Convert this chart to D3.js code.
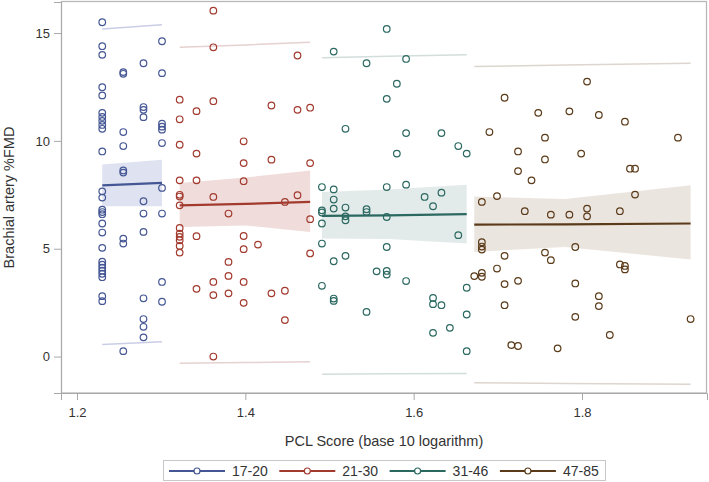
<!DOCTYPE html>
<html><head><meta charset="utf-8">
<script src="https://cdn.jsdelivr.net/npm/d3@7"></script>
<style>body{margin:0;background:#fff}svg{display:block;font-family:"Liberation Sans",Arial,sans-serif}</style>
</head><body><div id="chart"></div>
<script>
// ---------- data ----------
const groups = ["17-20", "21-30", "31-46", "47-85"];
const xTicks = [1.2, 1.4, 1.6, 1.8];
const yTicks = [0, 5, 10, 15];

// points: [log10 PCL score, %FMD]
const pts1720 = [
  [1.230,15.5],[1.230,14.39],[1.230,13.99],[1.230,12.49],[1.230,12.11],[1.230,11.30],[1.230,11.11],[1.230,10.93],
  [1.230,10.74],[1.230,10.56],[1.230,9.51],[1.230,7.66],[1.230,7.37],[1.230,6.81],[1.230,6.70],[1.230,6.60],
  [1.230,6.17],[1.230,5.75],[1.230,5.04],[1.230,4.40],[1.230,4.26],[1.230,4.12],[1.230,3.98],[1.230,3.84],
  [1.230,3.68],[1.230,2.80],[1.230,2.57],
  [1.255,13.19],[1.255,13.11],[1.255,10.41],[1.255,9.76],[1.255,8.63],[1.255,8.53],[1.255,5.47],[1.255,5.24],[1.255,0.25],
  [1.279,13.6],[1.279,11.57],[1.279,11.44],[1.279,11.1],[1.279,7.2],[1.279,6.63],[1.279,5.78],[1.279,2.7],[1.279,1.74],[1.279,1.38],[1.279,0.89],
  [1.301,14.62],[1.301,13.14],[1.301,10.8],[1.301,10.66],[1.301,10.52],[1.301,9.9],[1.301,7.82],[1.301,6.63],[1.301,3.46],[1.301,2.54]
];
const pts2130 = [
  [1.322,11.91],[1.322,11.0],[1.322,9.82],[1.322,8.17],[1.322,7.5],[1.322,7.42],[1.322,7.01],[1.322,5.96],[1.322,5.7],[1.322,5.55],[1.322,5.39],[1.322,5.13],[1.322,4.82],
  [1.342,11.38],[1.342,9.41],[1.342,8.17],[1.342,5.58],[1.342,3.14],
  [1.362,16.04],[1.362,14.34],[1.362,11.84],[1.362,7.4],[1.362,3.46],[1.362,2.85],[1.362,0.0],
  [1.380,6.63],[1.380,4.39],[1.380,3.74],[1.380,2.93],
  [1.398,9.98],[1.398,8.97],[1.398,8.13],[1.398,5.59],[1.398,4.98],[1.398,3.46],[1.398,2.49],
  [1.415,5.19],
  [1.431,11.64],[1.431,9.13],[1.431,2.93],
  [1.447,7.17],[1.447,3.05],[1.447,1.69],
  [1.462,13.96],[1.462,11.44],[1.462,7.48],
  [1.477,11.54],[1.477,8.97],[1.477,6.37],[1.477,4.78]
];
const pts3146 = [
  [1.491,7.86],[1.491,6.78],[1.491,6.68],[1.491,6.17],[1.491,5.24],[1.491,3.28],
  [1.505,14.14],[1.505,7.75],[1.505,7.28],[1.505,6.86],[1.505,4.42],[1.505,2.69],[1.505,2.58],
  [1.519,10.56],[1.519,6.91],[1.519,6.5],[1.519,6.32],[1.519,4.67],
  [1.544,13.6],[1.544,6.83],[1.544,6.7],[1.544,2.07],
  [1.556,3.95],
  [1.568,15.19],[1.568,11.95],[1.568,7.86],[1.568,6.47],[1.568,5.08],[1.568,3.97],[1.568,3.8],
  [1.580,12.65],[1.580,9.41],
  [1.591,13.8],[1.591,10.36],[1.591,7.97],[1.591,3.5],
  [1.613,7.4],
  [1.623,6.97],[1.623,2.72],[1.623,2.43],[1.623,1.1],
  [1.633,10.36],[1.633,7.6],[1.633,2.38],
  [1.643,1.33],
  [1.653,9.76],[1.653,5.63],
  [1.663,9.41],[1.663,3.19],[1.663,1.95],[1.663,0.25]
];
const pts4785 = [
  [1.672,3.73],
  [1.681,7.17],[1.681,5.3],[1.681,5.1],[1.681,4.96],[1.681,3.88],[1.681,3.7],
  [1.690,10.41],
  [1.699,7.44],[1.699,4.08],
  [1.708,12.0],[1.708,4.67],[1.708,3.36],[1.708,2.38],
  [1.716,0.53],
  [1.724,9.51],[1.724,8.6],[1.724,3.51],[1.724,0.49],
  [1.732,6.74],
  [1.740,8.17],
  [1.748,11.3],
  [1.756,10.15],[1.756,9.14],[1.756,4.82],
  [1.763,6.58],[1.763,4.47],
  [1.771,0.38],
  [1.785,11.37],[1.785,6.58],
  [1.792,5.08],[1.792,3.39],[1.792,1.84],
  [1.799,9.41],
  [1.806,12.75],[1.806,6.86],[1.806,6.5],
  [1.820,11.2],[1.820,2.8],[1.820,2.34],
  [1.833,1.0],
  [1.845,6.74],[1.845,4.27],
  [1.851,10.89],[1.851,4.2],[1.851,4.04],
  [1.857,8.71],
  [1.863,8.71],[1.863,7.51],
  [1.914,10.15],
  [1.929,1.74]
];

// fit: [x, fit, lower CL mean, upper CL mean, lower pred, upper pred]
const fit1720 = [[1.230,7.94,6.97,8.90,0.56,15.19],[1.301,8.05,6.97,9.13,0.69,15.38]];
const fit2130 = [[1.322,7.01,6.01,8.05,-0.31,14.34],[1.400,7.08,6.08,8.30,-0.28,14.45],[1.477,7.17,5.78,8.63,-0.24,14.57]];
const fit3146 = [[1.491,6.52,5.47,7.63,-0.82,13.85],[1.570,6.55,5.45,7.75,-0.80,13.92],[1.663,6.60,5.24,7.97,-0.78,13.99]];
const fit4785 = [[1.672,6.12,4.85,7.42,-1.21,13.45],[1.780,6.13,5.08,7.30,-1.25,13.52],[1.929,6.17,4.50,7.94,-1.29,13.60]];

const lineColors = ["#445694", "#A23A2E", "#2a6860", "#5a3a18"];
const bandColors = ["#dfe2f0", "#f0dddb", "#e3ebea", "#ebe5df"];
const predColors = ["#c9cee6", "#e6d2d0", "#d2dedc", "#ddd6ce"];

const pointSets = [pts1720, pts2130, pts3146, pts4785];
const fitSets = [fit1720, fit2130, fit3146, fit4785];

// ---------- chart ----------
const W = 709, H = 482;
const L = 61, R = 707, T = 2, B = 393;
const svg = d3.select("#chart").append("svg").attr("width", W).attr("height", H);
svg.append("rect").attr("width", W).attr("height", H).attr("fill", "#fff");

const x = d3.scaleLinear().domain([1.181, 1.9485]).range([L, R]);
const y = d3.scaleLinear().domain([-1.69, 16.44]).range([B, T]);

const plot = svg.append("g");

fitSets.forEach((f, i) => {
  const area = d3.area().x(d => x(d[0])).y0(d => y(d[2])).y1(d => y(d[3]));
  plot.append("path").datum(f).attr("d", area).attr("fill", bandColors[i]);
});
fitSets.forEach((f, i) => {
  [4, 5].forEach(k => {
    plot.append("path").datum(f)
      .attr("d", d3.line().x(d => x(d[0])).y(d => y(d[k])))
      .attr("fill", "none").attr("stroke", predColors[i]).attr("stroke-width", 1.5);
  });
});
pointSets.forEach((p, i) => {
  plot.append("g").selectAll("circle").data(p).join("circle")
    .attr("cx", d => x(d[0])).attr("cy", d => y(d[1])).attr("r", 3.3)
    .attr("fill", "none").attr("stroke", lineColors[i]).attr("stroke-width", 1.2);
});
fitSets.forEach((f, i) => {
  plot.append("path").datum(f)
    .attr("d", d3.line().x(d => x(d[0])).y(d => y(d[1])))
    .attr("fill", "none").attr("stroke", lineColors[i]).attr("stroke-width", 2.2);
});

// frame
svg.append("rect").attr("x", L + 0.5).attr("y", T - 0.5).attr("width", R - L - 1).attr("height", B - T + 0.5)
  .attr("fill", "none").attr("stroke", "#b8b8b8").attr("stroke-width", 1.3);

// axes
const xAxis = svg.append("g").attr("transform", `translate(0,${B})`)
  .call(d3.axisBottom(x).tickValues(xTicks).tickFormat(d3.format(".1f")).tickSize(7).tickPadding(8));
const yAxis = svg.append("g").attr("transform", `translate(${L},0)`)
  .call(d3.axisLeft(y).tickValues(yTicks).tickSize(7).tickPadding(4));
[xAxis, yAxis].forEach(a => {
  a.select(".domain").attr("stroke", "#a8a8a8");
  a.selectAll(".tick line").attr("stroke", "#a8a8a8");
  a.selectAll(".tick text").attr("fill", "#333").style("font-size", "13px")
    .style("font-family", '"Liberation Sans",Arial,sans-serif');
});

svg.append("text").attr("x", (L + R) / 2).attr("y", 446).attr("text-anchor", "middle")
  .attr("fill", "#333").style("font-size", "14.5px").text("PCL Score (base 10 logarithm)");
svg.append("text").attr("transform", `translate(13.5,${(T + B) / 2}) rotate(-90)`).attr("text-anchor", "middle")
  .attr("fill", "#333").style("font-size", "14.5px").text("Brachial artery %FMD");

// legend
const lg = svg.append("g");
lg.append("rect").attr("x", 163.5).attr("y", 460.5).attr("width", 442).attr("height", 20)
  .attr("fill", "#fff").attr("stroke", "#c8c8c8");
groups.forEach((g, i) => {
  const x0 = 169 + i * 110.3;
  lg.append("line").attr("x1", x0).attr("x2", x0 + 56).attr("y1", 471).attr("y2", 471)
    .attr("stroke", lineColors[i]).attr("stroke-width", 2);
  lg.append("circle").attr("cx", x0 + 28).attr("cy", 471).attr("r", 3)
    .attr("fill", "#fff").attr("stroke", lineColors[i]).attr("stroke-width", 1.2);
  lg.append("text").attr("x", x0 + 63).attr("y", 476).attr("fill", "#333")
    .style("font-size", "14px").text(g);
});
</script></body></html>
